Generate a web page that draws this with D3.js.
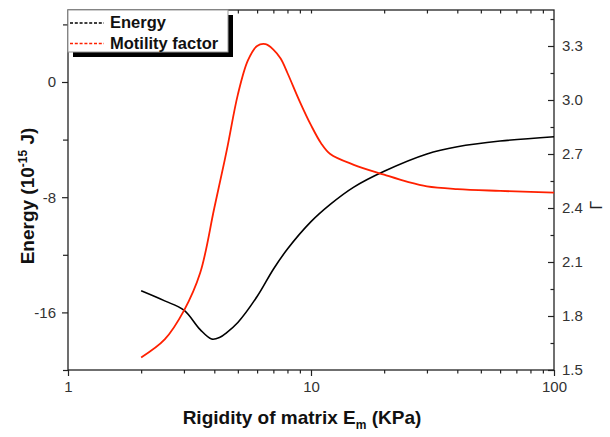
<!DOCTYPE html>
<html>
<head>
<meta charset="utf-8">
<script src="https://cdn.jsdelivr.net/npm/d3@7"></script>
<style>
  body { margin: 0; background: #fff; }
  text { font-family: "Liberation Sans", Arial, sans-serif; }
</style>
</head>
<body>
<svg id="chart" width="610" height="437"></svg>
<script>
// rigidity (KPa) and energy (10^-15 J)
const energyX = [2, 2.5, 3, 3.5, 3.9, 4.2, 4.5, 5, 6, 7, 8, 10, 12, 15, 20, 30, 40, 60, 100];
const energyY = [-14.5, -15.2, -15.85, -17.2, -17.85, -17.75, -17.4, -16.7, -14.9, -13.0, -11.6, -9.7, -8.5, -7.3, -6.2, -5.0, -4.5, -4.1, -3.8];

// rigidity (KPa) and motility factor Γ
const motilityX = [2, 2.5, 3, 3.5, 4, 4.5, 5, 5.5, 6, 6.5, 7, 7.5, 8, 9, 10, 11, 12, 15, 20, 25, 30, 40, 60, 100];
const motilityY = [1.57, 1.67, 1.83, 2.04, 2.40, 2.72, 3.03, 3.22, 3.30, 3.31, 3.28, 3.23, 3.15, 2.99, 2.86, 2.76, 2.70, 2.64, 2.585, 2.545, 2.52, 2.505, 2.495, 2.485];

const xMajor = [1, 10, 100];
const xMinor = [2, 3, 4, 5, 6, 7, 8, 9, 20, 30, 40, 50, 60, 70, 80, 90];
const eMajor = [0, -8, -16];
const eMinor = [4, -4, -12, -20];
const gMajor = [1.5, 1.8, 2.1, 2.4, 2.7, 3.0, 3.3];
const gMinor = [1.65, 1.95, 2.25, 2.55, 2.85, 3.15, 3.45];

const legendItems = [
    {name: 'Energy', color: '#000'},
    {name: 'Motility factor', color: '#ff2000'}
];

const plotLeft = 68, plotRight = 554, plotTop = 10, plotBottom = 370;
const svg = d3.select('#chart');

const x = d3.scaleLog().domain([1, 100]).range([plotLeft, plotRight]);
const yE = d3.scaleLinear().domain([-20, 5]).range([plotBottom, plotTop]);
const yG = d3.scaleLinear().domain([1.5, 3.5]).range([plotBottom, plotTop]);

const axisColor = '#222';
const styleAxis = (g) => {
    g.select('.domain').remove();
    g.selectAll('line').attr('stroke', axisColor).attr('stroke-width', 1.2);
    g.selectAll('text').attr('fill', '#333').style('font-size', '15px').style('font-family', '"Liberation Sans", Arial, sans-serif');
};

// bottom axis
svg.append('g').attr('transform', `translate(0,${plotBottom})`)
    .call(d3.axisBottom(x).tickValues(xMajor).tickSize(6).tickPadding(5).tickFormat(d3.format('d')))
    .call(styleAxis);
svg.append('g').attr('transform', `translate(0,${plotBottom})`)
    .call(d3.axisBottom(x).tickValues(xMinor).tickSize(3.5).tickFormat(''))
    .call(styleAxis);

// top axis, ticks pointing inside
svg.append('g').attr('transform', `translate(0,${plotTop})`)
    .call(d3.axisBottom(x).tickValues(xMinor.concat([10])).tickSize(3.5).tickFormat(''))
    .call(styleAxis);

// left axis
svg.append('g').attr('transform', `translate(${plotLeft},0)`)
    .call(d3.axisLeft(yE).tickValues(eMajor).tickSize(6).tickPadding(6).tickFormat(d => String(d)))
    .call(styleAxis);
svg.append('g').attr('transform', `translate(${plotLeft},0)`)
    .call(d3.axisLeft(yE).tickValues(eMinor).tickSize(5).tickFormat(''))
    .call(styleAxis);

// right axis, ticks pointing inside
svg.append('g').attr('transform', `translate(${plotRight},0)`)
    .call(d3.axisLeft(yG).tickValues(gMajor).tickSize(6).tickFormat(''))
    .call(styleAxis);
svg.append('g').attr('transform', `translate(${plotRight},0)`)
    .call(d3.axisLeft(yG).tickValues(gMinor).tickSize(3.5).tickFormat(''))
    .call(styleAxis);
svg.append('g').attr('transform', `translate(${plotRight},0)`)
    .call(d3.axisRight(yG).tickValues(gMajor).tickSize(0).tickPadding(8).tickFormat(d3.format('.1f')))
    .call(styleAxis);

// frame
svg.append('rect')
    .attr('x', plotLeft).attr('y', plotTop)
    .attr('width', plotRight - plotLeft).attr('height', plotBottom - plotTop)
    .attr('fill', 'none').attr('stroke', axisColor).attr('stroke-width', 1.3);

// curves
const energyLine = d3.line()
    .x((d, i) => x(energyX[i]))
    .y(d => yE(d))
    .curve(d3.curveCatmullRom.alpha(0.5));
svg.append('path').datum(energyY)
    .attr('d', energyLine)
    .attr('fill', 'none').attr('stroke', '#000').attr('stroke-width', 1.6);

const motilityLine = d3.line()
    .x((d, i) => x(motilityX[i]))
    .y(d => yG(d))
    .curve(d3.curveCatmullRom.alpha(0.5));
svg.append('path').datum(motilityY)
    .attr('d', motilityLine)
    .attr('fill', 'none').attr('stroke', '#ff2000').attr('stroke-width', 1.8);

// legend
const lg = svg.append('g');
lg.append('rect').attr('x', 73).attr('y', 15).attr('width', 160).attr('height', 42).attr('fill', '#000');
lg.append('rect').attr('x', plotLeft).attr('y', plotTop).attr('width', 160).attr('height', 42)
    .attr('fill', '#fff').attr('stroke', '#999').attr('stroke-width', 1);
legendItems.forEach((d, i) => {
    const yy = 23 + i * 20.5;
    lg.append('line')
        .attr('x1', 70).attr('x2', 104).attr('y1', yy).attr('y2', yy)
        .attr('stroke', d.color).attr('stroke-width', 1.5).attr('stroke-dasharray', '3,1.8');
    lg.append('text').text(d.name)
        .attr('x', 110).attr('y', yy + 5)
        .style('font-size', '16.5px').style('font-weight', 'bold').attr('fill', '#111');
});

// axis titles
const xt = svg.append('text')
    .attr('x', 302).attr('y', 424)
    .attr('text-anchor', 'middle')
    .style('font-size', '19px').style('font-weight', 'bold').attr('fill', '#111');
xt.append('tspan').text('Rigidity of matrix E');
xt.append('tspan').text('m').attr('dy', 5).style('font-size', '12px');
xt.append('tspan').text(' (KPa)').attr('dy', -5);

const yt = svg.append('text')
    .attr('transform', `translate(34,196) rotate(-90)`)
    .attr('text-anchor', 'middle')
    .style('font-size', '19px').style('font-weight', 'bold').attr('fill', '#111');
yt.append('tspan').text('Energy (10');
yt.append('tspan').text('-15').attr('dy', -7).style('font-size', '12px');
yt.append('tspan').text(' J)').attr('dy', 7);

svg.append('text')
    .attr('transform', `translate(602,205) rotate(-90)`)
    .attr('text-anchor', 'middle')
    .style('font-size', '16px').attr('fill', '#222')
    .text('Γ');
</script>
</body>
</html>
